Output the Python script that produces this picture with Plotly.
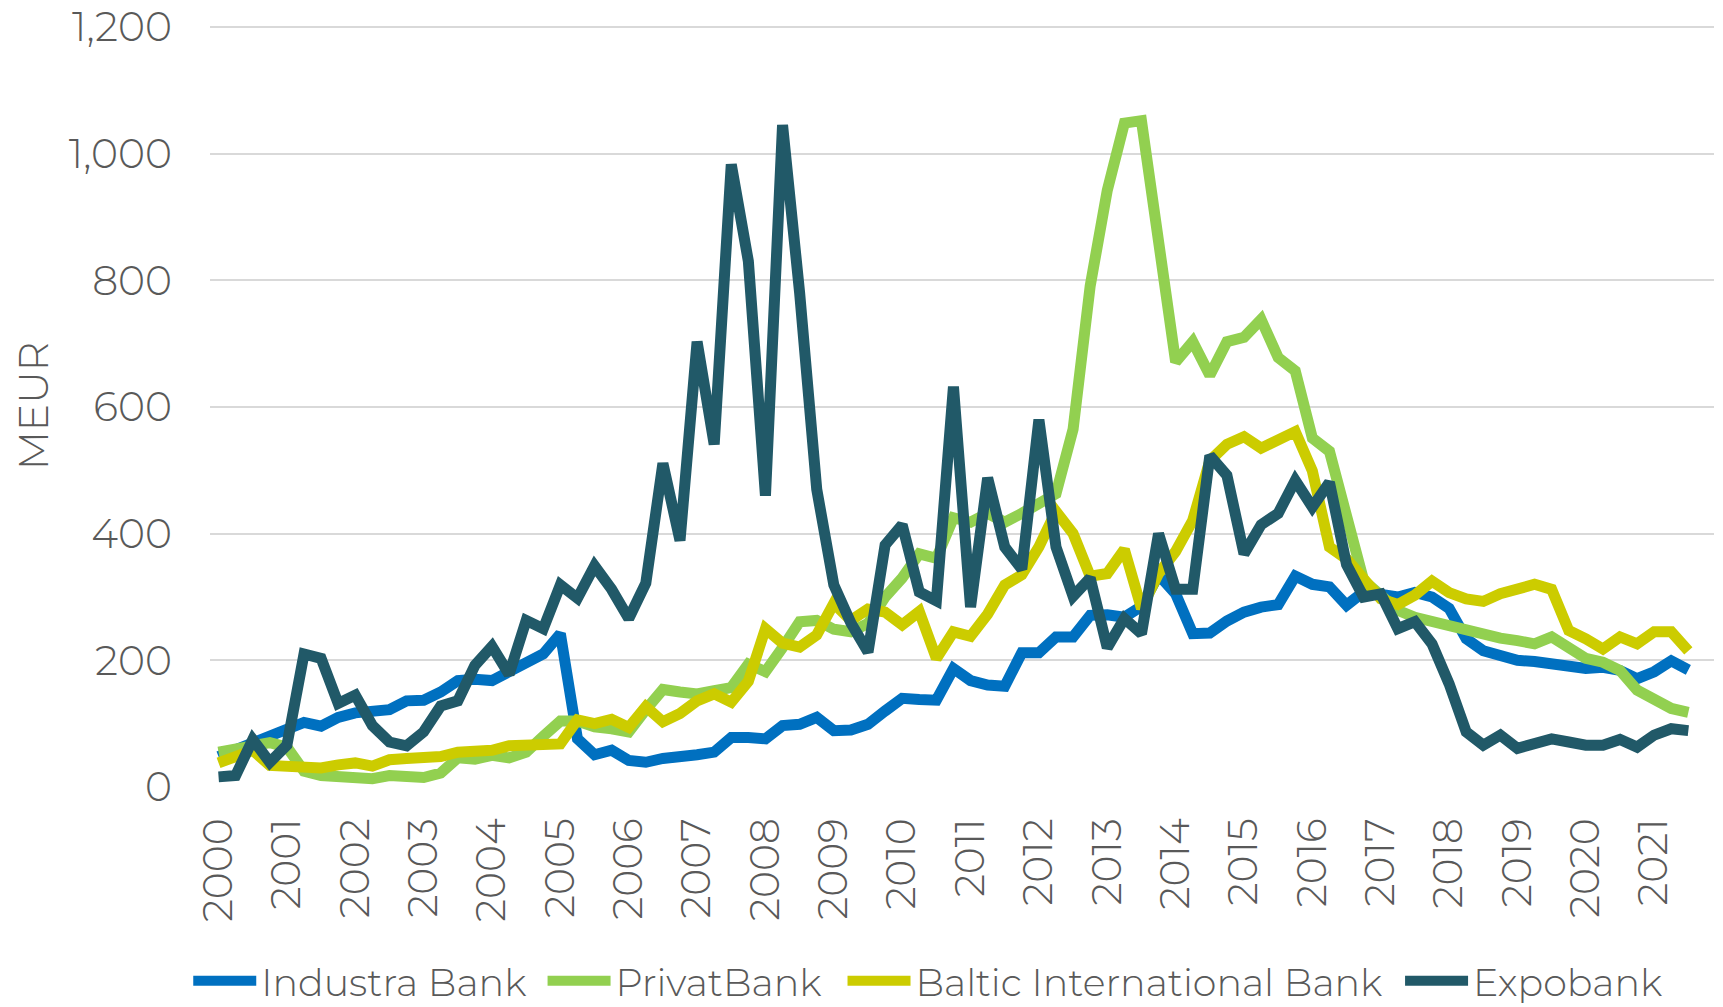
import plotly.graph_objects as go

# Quarterly categories 2000Q1 .. 2021Q4 (last quarter has no data yet)
years = ["2000", "2001", "2002", "2003", "2004", "2005", "2006", "2007", "2008", "2009", "2010",
         "2011", "2012", "2013", "2014", "2015", "2016", "2017", "2018", "2019", "2020", "2021"]
quarters = [f"{y} Q{q}" for y in years for q in (1, 2, 3, 4)]
year_ticks = [f"{y} Q1" for y in years]

industra = [48, 58, 72, 80, 90, 102, 96, 110, 117, 121, 122, 136, 137, 150, 168, 170, 168, 182, 197, 210,
            242, 76, 51, 58, 42, 39, 45, 50, 51, 55, 78, 78, 76, 97, 99, 110, 89, 90, 99, 120,
            140, 138, 137, 187, 168, 161, 159, 212, 212, 237, 237, 271, 272, 268, 285, 335, 305, 242, 243, 262,
            276, 284, 288, 333, 320, 316, 287, 308, 303, 300, 307, 300, 282, 234, 215, 208, 200, 198, 195, 189,
            187, 189, 184, 171, 182, 199, 185]

privatbank = [55, 60, 66, 70, 63, 25, 18, 16, 18, 13, 18, 17, 15, 22, 46, 44, 50, 46, 55, 80,
              104, 104, 95, 92, 87, 122, 154, 150, 147, 152, 157, 194, 182, 220, 261, 263, 249, 245, 258, 300,
              330, 368, 361, 425, 418, 432, 418, 432, 446, 463, 565, 791, 942, 1048, 1052, 872, 671, 703, 650, 703,
              710, 738, 678, 657, 551, 530, 420, 326, 303, 279, 268, 261, 252, 245, 239, 235, 231, 226, 237, 218,
              203, 197, 184, 153, 139, 124, 118]

baltic = [38, 47, 58, 34, 33, 34, 30, 35, 38, 33, 43, 45, 47, 48, 55, 55, 58, 65, 65, 68,
          68, 106, 100, 107, 94, 127, 103, 116, 136, 147, 134, 167, 250, 227, 221, 240, 290, 263, 281, 276,
          256, 277, 203, 245, 238, 273, 319, 335, 379, 435, 400, 333, 337, 375, 282, 337, 372, 421, 515, 541,
          553, 535, 546, 561, 499, 379, 360, 325, 297, 288, 303, 325, 307, 297, 293, 305, 312, 320, 312, 247,
          234, 218, 237, 226, 245, 245, 215]

expobank = [16, 18, 75, 39, 66, 210, 203, 132, 145, 97, 71, 65, 87, 128, 136, 192, 222, 178, 263, 250,
            319, 298, 349, 312, 266, 322, 511, 389, 703, 541, 983, 830, 460, 1045, 780, 470, 319, 259, 213, 382,
            414, 308, 294, 632, 284, 488, 379, 344, 580, 379, 301, 330, 220, 266, 242, 400, 312, 312, 523, 492,
            368, 414, 432, 484, 442, 481, 351, 300, 305, 250, 261, 226, 163, 87, 66, 82, 61, 68, 76, 71,
            66, 66, 75, 63, 82, 92, 89]

y_ticks = [0, 200, 400, 600, 800, 1000, 1200]

series = [
    ("Industra Bank", industra, "#0070C0"),
    ("PrivatBank", privatbank, "#92D050"),
    ("Baltic International Bank", baltic, "#CCCC00"),
    ("Expobank", expobank, "#215968"),
]

FONT = "Montserrat, Inter, Lato, sans-serif"
GREY = "#595959"
FS = 41
LFS = 38

# one legend per series so each entry sits where the reference has it
legend_ids = ["legend", "legend2", "legend3", "legend4"]
legend_x = [0.1051, 0.3117, 0.4866, 0.8117]

fig = go.Figure()
for (name, vals, col), lid in zip(series, legend_ids):
    fig.add_trace(go.Scatter(
        x=quarters[:len(vals)], y=vals, name=name, mode="lines",
        line=dict(color=col, width=11), legend=lid,
    ))

legend_common = dict(orientation="h", xref="container", yref="container",
                     xanchor="left", y=0.026, yanchor="middle",
                     font=dict(family=FONT, size=LFS, color=GREY, weight=300),
                     itemwidth=63, bgcolor="rgba(0,0,0,0)")

layout_legends = {lid: dict(legend_common, x=lx) for lid, lx in zip(legend_ids, legend_x)}

fig.update_layout(
    width=1715, height=999,
    margin=dict(l=202, r=9, t=17, b=220, autoexpand=False),
    paper_bgcolor="white", plot_bgcolor="white",
    font=dict(family=FONT, size=FS, color=GREY, weight=300),
    showlegend=True,
    **layout_legends,
)
fig.update_xaxes(
    type="category", categoryorder="array", categoryarray=quarters,
    range=[-0.5, len(quarters) - 0.5], automargin=False,
    tickmode="array", tickvals=year_ticks, ticktext=years, tickangle=-90,
    showgrid=False, showline=False, zeroline=False, ticks="",
    ticklabelstandoff=22, ticklabeloverflow="allow",
    tickfont=dict(family=FONT, size=FS, color=GREY, weight=300),
)
fig.update_yaxes(
    range=[0, 1203], tickmode="array", tickvals=y_ticks, automargin=False,
    tickformat=",d",
    showgrid=True, gridcolor="#D9D9D9", gridwidth=1.5,
    zeroline=False, showline=False, ticks="",
    ticklabelstandoff=37, ticklabeloverflow="allow",
    tickfont=dict(family=FONT, size=FS, color=GREY, weight=300),
    title=dict(text="MEUR", standoff=28, font=dict(family=FONT, size=FS, color=GREY, weight=300)),
)

fig.write_html("out.html")
